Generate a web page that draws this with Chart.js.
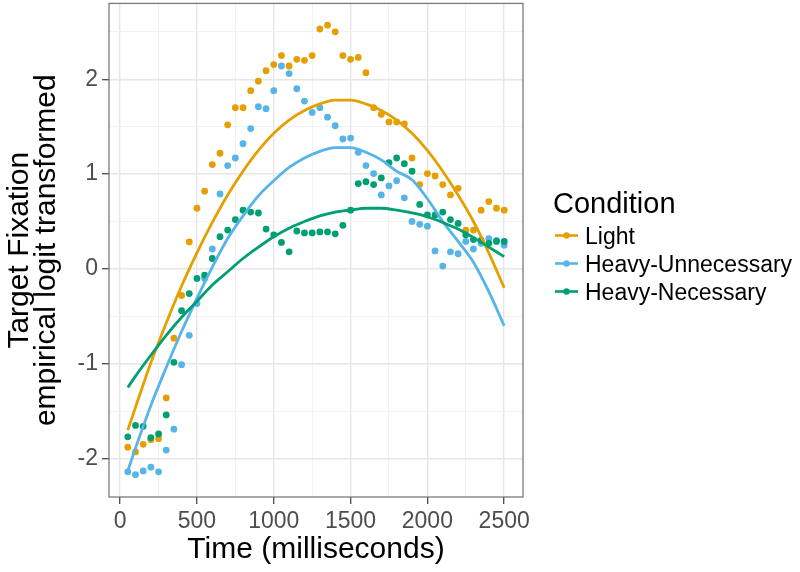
<!DOCTYPE html>
<html>
<head>
<meta charset="utf-8">
<script src="https://cdn.jsdelivr.net/npm/chart.js@4.4.1/dist/chart.umd.min.js"></script>
<style>
html,body{margin:0;padding:0;background:#ffffff;}
#wrap{position:relative;width:800px;height:572px;}
</style>
</head>
<body>
<div id="wrap"><canvas id="c" width="800" height="572"></canvas></div>
<script>
// ---- data ----
const times = [50,100,150,200,250,300,350,400,450,500,550,600,650,700,750,800,850,900,950,1000,
  1050,1100,1150,1200,1250,1300,1350,1400,1450,1500,1550,1600,1650,1700,1750,1800,1850,1900,1950,2000,
  2050,2100,2150,2200,2250,2300,2350,2400,2450,2500];

const light = [-1.88,-1.93,-1.85,-1.80,-1.79,-1.36,-0.73,-0.28,0.285,0.64,
  0.82,1.10,1.22,1.52,1.70,1.70,1.88,1.98,2.09,2.155,
  2.25,2.14,2.21,2.20,2.25,2.53,2.57,2.50,2.25,2.21,
  2.23,2.07,1.70,1.63,1.55,1.55,1.53,1.17,0.89,1.005,
  0.98,0.89,0.78,0.85,0.41,0.41,0.62,0.71,0.64,0.62];

const heavyUnnecessary = [-2.14,-2.17,-2.13,-2.09,-2.14,-1.91,-1.69,-1.01,-0.70,-0.365,
  -0.10,0.21,0.79,1.09,1.17,1.32,1.48,1.71,1.69,1.88,
  2.14,2.06,1.90,1.77,1.65,1.70,1.60,1.51,1.37,1.38,
  1.23,1.09,1.005,0.78,0.875,0.93,0.75,0.50,0.47,0.45,
  0.19,0.03,0.18,0.16,0.29,0.21,0.27,0.32,0.30,0.25];

const heavyNecessary = [-1.77,-1.65,-1.66,-1.78,-1.74,-1.54,-0.985,-0.44,-0.26,-0.10,
  -0.065,0.11,0.34,0.41,0.52,0.62,0.60,0.59,0.42,0.36,
  0.28,0.18,0.40,0.38,0.38,0.39,0.39,0.37,0.46,0.62,
  0.90,0.92,0.89,0.96,1.12,1.17,1.11,1.03,0.68,0.57,
  0.57,0.60,0.52,0.48,0.36,0.31,0.30,0.27,0.29,0.29];

// fitted model curves
const fitTimes = [50,100,200,300,400,500,600,700,800,900,1000,1100,1200,1300,1400,1500,
  1600,1700,1800,1900,2000,2100,2200,2300,2400,2500];
const fitLight = [-1.70,-1.46,-0.99,-0.57,-0.18,0.17,0.49,0.78,1.03,1.25,1.43,1.57,1.67,1.74,1.78,1.78,
  1.74,1.67,1.57,1.43,1.25,1.03,0.78,0.50,0.17,-0.20];
const fitHeavyUnnecessary = [-2.13,-1.89,-1.44,-1.04,-0.66,-0.31,0.02,0.32,0.56,0.77,0.93,1.07,1.17,1.24,1.28,1.28,
  1.23,1.15,1.03,0.94,0.74,0.50,0.29,0.07,-0.24,-0.60];
const fitHeavyNecessary = [-1.25,-1.13,-0.91,-0.70,-0.51,-0.34,-0.17,-0.03,0.11,0.23,0.34,0.43,0.50,0.56,0.60,0.62,
  0.64,0.64,0.62,0.59,0.55,0.49,0.42,0.33,0.23,0.13];

const seriesNames = ['Light','Heavy-Unnecessary','Heavy-Necessary'];

const xMajorTicks = [0,500,1000,1500,2000,2500];
const xMinorTicks = [250,750,1250,1750,2250];
const xTickLabels = ['0','500','1000','1500','2000','2500'];
const yMajorTicks = [-2,-1,0,1,2];
const yMinorTicks = [-1.5,-0.5,0.5,1.5,2.5];
const yTickLabels = ['-2','-1','0','1','2'];

// ---- styling ----
const COLORS = ['#E69F00','#56B4E9','#009E73'];
const FONT = "'Liberation Sans', Arial, Helvetica, sans-serif";

function pts(xs, ys){ return xs.map((x,i)=>({x:x, y:ys[i]})); }

const pointSeries = [light, heavyUnnecessary, heavyNecessary];
const fitSeries = [fitLight, fitHeavyUnnecessary, fitHeavyNecessary];

const datasets = [];
pointSeries.forEach((vals,i)=>{
  datasets.push({
    label: seriesNames[i],
    data: pts(times, vals),
    showLine: false,
    backgroundColor: COLORS[i],
    borderColor: COLORS[i],
    pointRadius: 3.4,
    pointBorderWidth: 0,
    pointHoverRadius: 3.4,
    order: 5 - i
  });
});
fitSeries.forEach((vals,i)=>{
  datasets.push({
    label: seriesNames[i] + ' fit',
    data: pts(fitTimes, vals),
    showLine: true,
    borderColor: COLORS[i],
    backgroundColor: COLORS[i],
    borderWidth: 2.8,
    pointRadius: 0,
    pointHoverRadius: 0,
    fill: false,
    cubicInterpolationMode: 'monotone',
    order: 2 - i
  });
});

function gridStyle(majors){
  return {
    color: c => (c.tick && majors.includes(c.tick.value)) ? '#E6E6E6' : '#F1F1F1',
    lineWidth: c => (c.tick && majors.includes(c.tick.value)) ? 1.4 : 0.9,
    tickColor: c => (c.tick && majors.includes(c.tick.value)) ? '#4a4a4a' : 'rgba(0,0,0,0)',
    tickLength: 7,
    tickWidth: 1.3,
    drawTicks: true,
    drawOnChartArea: true
  };
}

const panelAndLegend = {
  id: 'panelAndLegend',
  afterDatasetsDraw(chart){
    const a = chart.chartArea, ctx = chart.ctx;
    ctx.save();
    ctx.strokeStyle = '#7a7a7a';
    ctx.lineWidth = 1.3;
    ctx.strokeRect(a.left, a.top, a.right - a.left, a.bottom - a.top);
    ctx.restore();
  },
  afterDraw(chart){
    const ctx = chart.ctx;
    ctx.save();
    ctx.fillStyle = '#000';
    ctx.textAlign = 'left';
    ctx.textBaseline = 'alphabetic';
    ctx.font = '29px ' + FONT;
    ctx.fillText('Condition', 553, 213);
    const keyY = [235.5, 263.5, 291.5];
    const baseY = [243.5, 271.5, 299.5];
    ctx.font = '23px ' + FONT;
    seriesNames.forEach((name,i)=>{
      ctx.strokeStyle = COLORS[i];
      ctx.lineWidth = 2.6;
      ctx.beginPath();
      ctx.moveTo(555, keyY[i]);
      ctx.lineTo(578, keyY[i]);
      ctx.stroke();
      ctx.fillStyle = COLORS[i];
      ctx.beginPath();
      ctx.arc(566.5, keyY[i], 3.2, 0, Math.PI*2);
      ctx.fill();
      ctx.fillStyle = '#000';
      ctx.fillText(name, 585, baseY[i]);
    });
    ctx.restore();
  }
};

new Chart(document.getElementById('c'), {
  type: 'scatter',
  data: { datasets: datasets },
  options: {
    responsive: false,
    devicePixelRatio: 1,
    animation: false,
    events: [],
    layout: { padding: { left: 0, right: 277, top: 2, bottom: 0 } },
    plugins: { legend: { display: false }, tooltip: { enabled: false } },
    scales: {
      x: {
        type: 'linear',
        min: -72.5,
        max: 2622.5,
        afterBuildTicks: s => { s.ticks = xMajorTicks.concat(xMinorTicks).sort((a,b)=>a-b).map(v=>({value:v})); },
        afterFit: s => { s.height = 75; s.paddingLeft = 0; s.paddingRight = 0; },
        grid: gridStyle(xMajorTicks),
        border: { display: false },
        ticks: {
          autoSkip: false, maxRotation: 0, minRotation: 0, padding: 4,
          color: '#4D4D4D', font: { family: FONT, size: 23 },
          callback: v => { const i = xMajorTicks.indexOf(v); return i >= 0 ? xTickLabels[i] : ''; }
        },
        title: {
          display: true, text: 'Time (milliseconds)', color: '#000',
          font: { family: FONT, size: 30, lineHeight: 1.0 },
          padding: { top: 0, bottom: 7 }
        }
      },
      y: {
        type: 'linear',
        min: -2.405,
        max: 2.80,
        afterBuildTicks: s => { s.ticks = yMajorTicks.concat(yMinorTicks).sort((a,b)=>a-b).map(v=>({value:v})); },
        afterFit: s => { s.width = 109; s.paddingTop = 0; s.paddingBottom = 0; },
        grid: gridStyle(yMajorTicks),
        border: { display: false },
        ticks: {
          autoSkip: false, padding: 4,
          color: '#4D4D4D', font: { family: FONT, size: 23 },
          callback: v => { const i = yMajorTicks.indexOf(v); return i >= 0 ? yTickLabels[i] : ''; }
        },
        title: {
          display: true, text: ['Target Fixation','empirical logit transformed'], color: '#000',
          font: { family: FONT, size: 30, lineHeight: 0.9 },
          padding: { top: 6, bottom: 0 }
        }
      }
    }
  },
  plugins: [panelAndLegend]
});
</script>
</body>
</html>
